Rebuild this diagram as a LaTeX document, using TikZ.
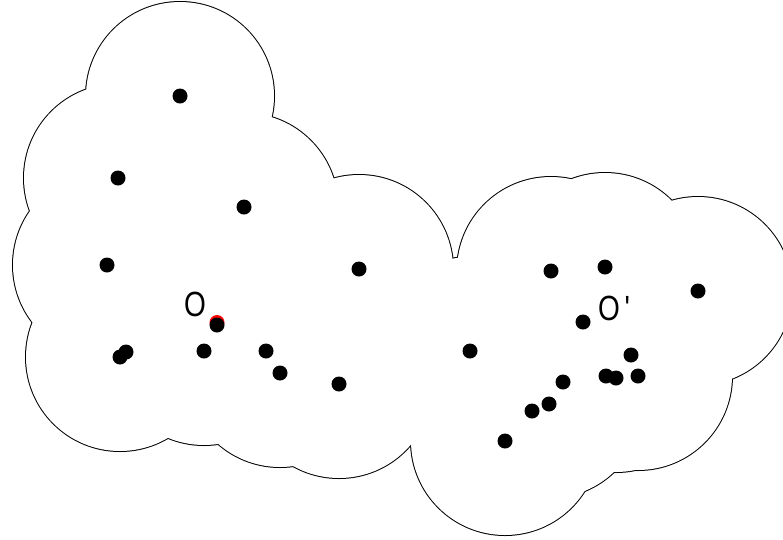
\documentclass[tikz,border=0pt]{standalone}
\usepackage{fontspec}
\setmainfont{Liberation Sans}
\tikzset{
	lobe/.style     ={draw=black, line width=2pt},
	lobefill/.style ={fill=white},
	smp/.style      ={fill=black},
	lbl/.style      ={inner sep=0pt, xscale=0.8, font=\fontsize{35}{35}\selectfont},
}
% sample points (pixel coordinates, y downwards)
\def\samples{180/96, 118/178, 244/207, 107/265, 359/269, 217/325, 204/351, 266/351, 280/373, 339/384, 120/357, 126/352,
	470/351, 551/271, 605/267, 698/291, 583/322, 631/355, 606/376, 616/378, 638/376, 563/382, 549/404, 532/411, 505/441}

\begin{document}
\begin{tikzpicture}[x=1pt, y=-1pt]
	\useasboundingbox (0,0) rectangle (783,539);
	\clip (0,0) rectangle (783,539);
	% union of discs: outline first, then white interiors
	\foreach \x/\y in \samples
		\draw[lobe] (\x,\y) circle[radius=94];
	\foreach \x/\y in \samples
		\fill[lobefill] (\x,\y) circle[radius=94];
	\fill[red] (217,322.5) circle[radius=7.5];
	\foreach \x/\y in \samples
		\fill[smp] (\x,\y) circle[radius=7.5];
	\node[lbl] (cO) at (195,304) {O};
	\node[lbl] (cOp) at (614,308) {O\,\textquotesingle};
\end{tikzpicture}
\end{document}
